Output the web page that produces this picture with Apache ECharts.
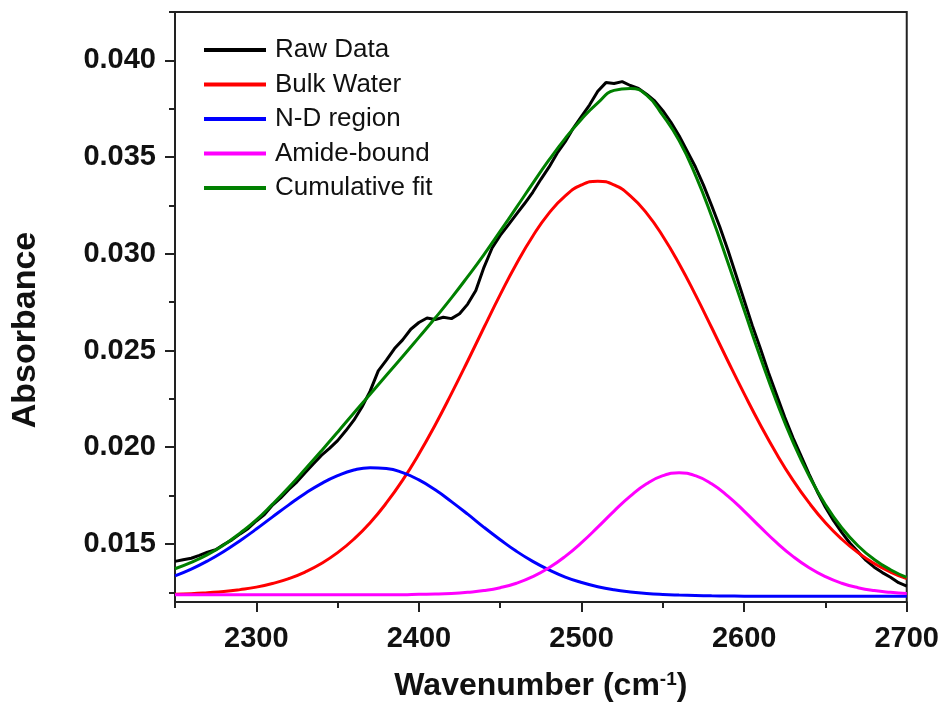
<!DOCTYPE html>
<html>
<head>
<meta charset="utf-8">
<script src="https://cdn.jsdelivr.net/npm/echarts@6/dist/echarts.min.js"></script>
<style>
  html, body { margin: 0; padding: 0; background: #fff; }
  #main { width: 942px; height: 708px; }
</style>
</head>
<body>
<div id="main"></div>
<script>
// wavenumber grid for the fitted curves (cm-1)
var fitX = [2250, 2260, 2270, 2280, 2290, 2300, 2310, 2320, 2330, 2340,
    2350, 2360, 2370, 2380, 2390, 2400, 2410, 2420, 2430, 2440,
    2450, 2460, 2470, 2480, 2490, 2500, 2510, 2520, 2530, 2540,
    2550, 2560, 2570, 2580, 2590, 2600, 2610, 2620, 2630, 2640,
    2650, 2660, 2670, 2680, 2690, 2700];

var bulkWater = [0.01240, 0.01243, 0.01248, 0.01254, 0.01264, 0.01277, 0.01296, 0.01321, 0.01355, 0.01399,
    0.01455, 0.01525, 0.01610, 0.01712, 0.01830, 0.01965, 0.02115, 0.02277, 0.02446, 0.02619,
    0.02789, 0.02949, 0.03091, 0.03210, 0.03300, 0.03356, 0.03375, 0.03356, 0.03300, 0.03210,
    0.03091, 0.02949, 0.02789, 0.02619, 0.02446, 0.02277, 0.02115, 0.01965, 0.01830, 0.01712,
    0.01610, 0.01525, 0.01455, 0.01399, 0.01355, 0.01321];

var ndRegion = [0.01335, 0.01370, 0.01412, 0.01461, 0.01517, 0.01577, 0.01640, 0.01702, 0.01761, 0.01812,
    0.01853, 0.01882, 0.01894, 0.01890, 0.01869, 0.01831, 0.01780, 0.01719, 0.01654, 0.01586,
    0.01522, 0.01462, 0.01410, 0.01366, 0.01329, 0.01301, 0.01279, 0.01263, 0.01252, 0.01244,
    0.01239, 0.01236, 0.01234, 0.01232, 0.01231, 0.01230, 0.01230, 0.01230, 0.01230, 0.01230,
    0.01230, 0.01230, 0.01230, 0.01230, 0.01230, 0.01230];

var amideBound = [0.01238, 0.01238, 0.01238, 0.01238, 0.01238, 0.01238, 0.01238, 0.01238, 0.01238, 0.01238,
    0.01238, 0.01238, 0.01238, 0.01238, 0.01238, 0.01240, 0.01241, 0.01244, 0.01250, 0.01259,
    0.01274, 0.01297, 0.01331, 0.01377, 0.01436, 0.01507, 0.01587, 0.01670, 0.01747, 0.01811,
    0.01853, 0.01868, 0.01853, 0.01811, 0.01747, 0.01670, 0.01587, 0.01507, 0.01436, 0.01377,
    0.01331, 0.01297, 0.01274, 0.01259, 0.01250, 0.01244];

var cumulativeFit = [0.01372, 0.01405, 0.01445, 0.01495, 0.01556, 0.01624, 0.01706, 0.01793, 0.01886, 0.01981,
    0.02078, 0.02177, 0.02274, 0.02372, 0.02469, 0.02568, 0.02668, 0.02772, 0.02882, 0.02996,
    0.03117, 0.03240, 0.03364, 0.03485, 0.03597, 0.03696, 0.03780, 0.03845, 0.03855, 0.03820,
    0.03715, 0.03585, 0.03408, 0.03194, 0.02955, 0.02709, 0.02464, 0.02234, 0.02028, 0.01851,
    0.01703, 0.01584, 0.01491, 0.01420, 0.01367, 0.01327];

// raw spectrum, read every 5 cm-1
var rawX = [2250, 2255, 2260, 2265, 2270, 2275, 2280, 2285, 2290, 2295,
    2300, 2305, 2310, 2315, 2320, 2325, 2330, 2335, 2340, 2345,
    2350, 2355, 2360, 2365, 2370, 2375, 2380, 2385, 2390, 2395,
    2400, 2405, 2410, 2415, 2420, 2425, 2430, 2435, 2440, 2445,
    2450, 2455, 2460, 2465, 2470, 2475, 2480, 2485, 2490, 2495,
    2500, 2505, 2510, 2515, 2520, 2525, 2530, 2535, 2540, 2545,
    2550, 2555, 2560, 2565, 2570, 2575, 2580, 2585, 2590, 2595,
    2600, 2605, 2610, 2615, 2620, 2625, 2630, 2635, 2640, 2645,
    2650, 2655, 2660, 2665, 2670, 2675, 2680, 2685, 2690, 2695, 2700];

var rawData = [0.01410, 0.01418, 0.01426, 0.01441, 0.01458, 0.01470, 0.01497, 0.01521, 0.01552, 0.01580,
    0.01619, 0.01652, 0.01701, 0.01738, 0.01782, 0.01821, 0.01868, 0.01913, 0.01958, 0.01994,
    0.02034, 0.02085, 0.02140, 0.02208, 0.02290, 0.02395, 0.02450, 0.02510, 0.02555, 0.02610,
    0.02645, 0.02668, 0.02660, 0.02672, 0.02665, 0.02690, 0.02740, 0.02810, 0.02930, 0.03030,
    0.03095, 0.03150, 0.03205, 0.03260, 0.03318, 0.03385, 0.03448, 0.03520, 0.03580, 0.03650,
    0.03710, 0.03770, 0.03840, 0.03885, 0.03880, 0.03890, 0.03870, 0.03855, 0.03825, 0.03790,
    0.03740, 0.03680, 0.03610, 0.03530, 0.03450, 0.03355, 0.03250, 0.03140, 0.03020, 0.02890,
    0.02760, 0.02630, 0.02510, 0.02385, 0.02270, 0.02155, 0.02050, 0.01955, 0.01860, 0.01770,
    0.01690, 0.01620, 0.01560, 0.01505, 0.01460, 0.01415, 0.01380, 0.01352, 0.01328, 0.01300, 0.01282];

// axis ticks
var xMajorTicks = [2300, 2400, 2500, 2600, 2700];
var xMinorTicks = [2250, 2350, 2450, 2550, 2650];
var yMajorTicks = [0.015, 0.020, 0.025, 0.030, 0.035, 0.040];
var yMinorTicks = [0.0125, 0.0175, 0.0225, 0.0275, 0.0325, 0.0375, 0.0425];

function pairs(xs, ys) {
    return xs.map(function (x, i) { return [x, ys[i]]; });
}

var FONT = '"Liberation Sans", Arial, sans-serif';
var AXIS_COLOR = '#222';

var chart = echarts.init(document.getElementById('main'));

function lineSeries(name, color, data, smooth) {
    return {
        name: name,
        type: 'line',
        xAxisIndex: 0,
        yAxisIndex: 0,
        showSymbol: false,
        smooth: smooth,
        data: data,
        lineStyle: { color: color, width: 3 },
        itemStyle: { color: color },
        animation: false
    };
}

chart.setOption({
    backgroundColor: '#fff',
    animation: false,
    grid: {
        left: 175, right: 35, top: 12, bottom: 106,
        show: true, borderColor: AXIS_COLOR, borderWidth: 2
    },
    legend: {
        orient: 'vertical',
        left: 204,
        top: 37,
        padding: 0,
        icon: 'rect',
        itemWidth: 62,
        itemHeight: 4,
        itemGap: 8.5,
        textStyle: { fontFamily: FONT, fontSize: 26, color: '#111', padding: [0, 0, 0, 4] },
        data: ['Raw Data', 'Bulk Water', 'N-D region', 'Amide-bound', 'Cumulative fit']
    },
    xAxis: [{
        type: 'value',
        min: 2250, max: 2700,
        position: 'bottom',
        name: '{t|Wavenumber (cm}{s|-1}{t|)}',
        nameLocation: 'middle',
        nameGap: 68,
        nameTextStyle: {
            rich: {
                t: { fontFamily: FONT, fontSize: 32, fontWeight: 'bold', color: '#111' },
                s: { fontFamily: FONT, fontSize: 19, fontWeight: 'bold', color: '#111', verticalAlign: 'top', padding: [0, 0, 14, 0] }
            }
        },
        axisLine: { show: true, lineStyle: { color: AXIS_COLOR, width: 2 } },
        axisTick: { show: true, customValues: xMajorTicks, length: 10, lineStyle: { color: AXIS_COLOR, width: 2 } },
        axisLabel: {
            customValues: xMajorTicks, margin: 22,
            fontFamily: FONT, fontSize: 29, fontWeight: 'bold', color: '#111',
            formatter: function (v) { return String(v); }
        },
        splitLine: { show: false }
    }, {
        type: 'value',
        min: 2250, max: 2700,
        position: 'bottom',
        axisLine: { show: false },
        axisTick: { show: true, customValues: xMinorTicks, length: 6, lineStyle: { color: AXIS_COLOR, width: 2 } },
        axisLabel: { show: false },
        splitLine: { show: false }
    }],
    yAxis: [{
        type: 'value',
        min: 0.012, max: 0.0425,
        position: 'left',
        axisLine: { show: true, lineStyle: { color: AXIS_COLOR, width: 2 } },
        axisTick: { show: true, customValues: yMajorTicks, length: 10, lineStyle: { color: AXIS_COLOR, width: 2 } },
        axisLabel: {
            customValues: yMajorTicks, margin: 19,
            fontFamily: FONT, fontSize: 29, fontWeight: 'bold', color: '#111',
            formatter: function (v) { return v.toFixed(3); }
        },
        splitLine: { show: false }
    }, {
        type: 'value',
        min: 0.012, max: 0.0425,
        position: 'left',
        axisLine: { show: false },
        axisTick: { show: true, customValues: yMinorTicks, length: 6, lineStyle: { color: AXIS_COLOR, width: 2 } },
        axisLabel: { show: false },
        splitLine: { show: false }
    }],
    graphic: [{
        type: 'text',
        x: 26,
        y: 330,
        rotation: Math.PI / 2,
        style: {
            text: 'Absorbance',
            fontFamily: FONT,
            fontSize: 34,
            fontWeight: 'bold',
            fill: '#111',
            align: 'center',
            verticalAlign: 'middle'
        }
    }],
    series: [
        lineSeries('Raw Data', '#000000', pairs(rawX, rawData), false),
        lineSeries('Bulk Water', '#ff0000', pairs(fitX, bulkWater), true),
        lineSeries('N-D region', '#0000ff', pairs(fitX, ndRegion), true),
        lineSeries('Amide-bound', '#ff00ff', pairs(fitX, amideBound), true),
        lineSeries('Cumulative fit', '#008000', pairs(fitX, cumulativeFit), true)
    ]
});
</script>
</body>
</html>
